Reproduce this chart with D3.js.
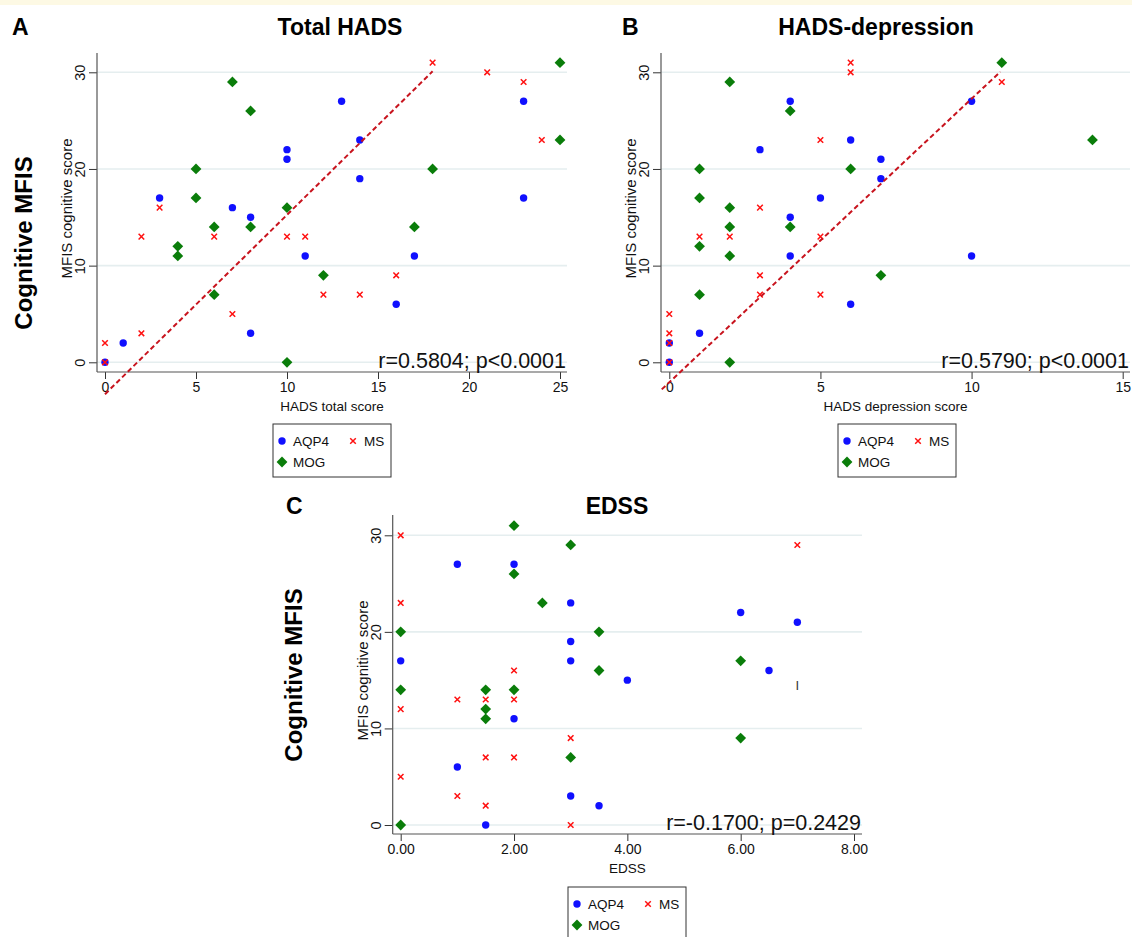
<!DOCTYPE html>
<html>
<head>
<meta http-equiv="Content-Type" content="text/html; charset=utf-8" />
<script src="https://cdn.jsdelivr.net/npm/d3@7"></script>
<title>MFIS panels</title>
<style>
  body { margin: 0; background: #fff; }
  text { font-family: "Liberation Sans", Arial, sans-serif; }
</style>
</head>
<body>
<svg width="1132" height="937" id="mainsvg"></svg>
<script>
// ---- data (x, MFIS cognitive score) ----
const yTicks = [0, 10, 20, 30];
const totalTicks = [0, 5, 10, 15, 20, 25];
const depTicks = [0, 5, 10, 15];
const edssTicks = [0, 2, 4, 6, 8];

const totalAQP4 = [[0,0],[1,2],[3,17],[7,16],[8,15],[8,3],[10,22],[10,21],[11,11],[13,27],[14,23],[14,19],[16,6],[17,11],[23,27],[23,17]];
const totalMS = [[0,0],[0,2],[2,13],[2,3],[3,16],[6,13],[7,5],[10,13],[11,13],[12,7],[14,7],[16,9],[18,31],[21,30],[23,29],[24,23]];
const totalMOG = [[4,12],[4,11],[5,20],[5,17],[6,14],[6,7],[7,29],[8,26],[8,14],[10,16],[10,0],[12,9],[17,14],[18,20],[25,31],[25,23]];
const totalFit = [[0,-3.3],[18,30.1]];

const depAQP4 = [[0,0],[0,2],[1,3],[3,22],[4,27],[4,15],[4,11],[5,17],[6,23],[6,6],[7,21],[7,19],[10,27],[10,11]];
const depMS = [[0,0],[0,2],[0,3],[0,5],[1,13],[2,13],[3,16],[3,9],[3,7],[5,23],[5,13],[5,7],[6,31],[6,30],[11,29]];
const depMOG = [[1,20],[1,17],[1,12],[1,7],[2,29],[2,16],[2,14],[2,11],[2,0],[4,26],[4,14],[6,20],[7,9],[11,31],[14,23]];
const depFit = [[-0.25,-2.8],[10.95,30.05]];

const edssAQP4 = [[0,17],[1,27],[1,6],[1.5,0],[2,27],[2,11],[3,23],[3,19],[3,17],[3,3],[3.5,2],[4,15],[6,22],[6.5,16],[7,21]];
const edssMS = [[0,30],[0,23],[0,12],[0,5],[1,13],[1,3],[1.5,13],[1.5,7],[1.5,2],[2,16],[2,13],[2,7],[3,9],[3,0],[7,29]];
const edssMOG = [[0,20],[0,14],[0,0],[1.5,14],[1.5,12],[1.5,11],[2,31],[2,26],[2,14],[2.5,23],[3,29],[3,7],[3.5,20],[3.5,16],[6,17],[6,9]];
const edssNote = [[7,14.5,"I"]];

const groups = ["AQP4", "MS", "MOG"];
const colors = {AQP4: "#1010ff", MS: "#ff1010", MOG: "#0a7d0a"};

let svg = d3.select("#mainsvg");
svg.append("rect").attr("x", 0).attr("y", 0).attr("width", 1132).attr("height", 5).attr("fill", "#fdf9e4");

function marker(g, grp, x, y) {
  if (grp === "AQP4") {
    g.append("circle").attr("cx", x).attr("cy", y).attr("r", 3.7).attr("fill", colors.AQP4);
  } else if (grp === "MOG") {
    g.append("path").attr("transform", `translate(${x},${y})`)
      .attr("d", "M0,-5.4L5.4,0L0,5.4L-5.4,0Z").attr("fill", colors.MOG);
  } else {
    g.append("path").attr("transform", `translate(${x},${y})`)
      .attr("d", "M-2.8,-2.8L2.8,2.8M-2.8,2.8L2.8,-2.8")
      .attr("stroke", colors.MS).attr("stroke-width", 1.5).attr("fill", "none");
  }
}

function panel(cfg) {
  const x = d3.scaleLinear().domain(cfg.xDom).range(cfg.xRange);
  const y = d3.scaleLinear().domain([0, 30]).range(cfg.yRange);
  const g = svg.append("g");

  // gridlines
  g.selectAll(".grid").data(yTicks).join("line")
    .attr("x1", cfg.left).attr("x2", cfg.right)
    .attr("y1", d => y(d)).attr("y2", d => y(d))
    .attr("stroke", "#e5eeef").attr("stroke-width", 1.6);

  // axes
  const ya = g.append("g").attr("transform", `translate(${cfg.left},0)`)
    .call(d3.axisLeft(y).tickValues(yTicks).tickSize(8).tickSizeOuter(0));
  ya.select(".domain").remove();
  ya.selectAll("line").attr("stroke", "#333");
  ya.selectAll("text").attr("transform", "rotate(-90)")
    .attr("x", 0).attr("y", -12).attr("dy", 0)
    .attr("text-anchor", "middle").attr("font-size", 14.5).attr("fill", "#111");

  const xa = g.append("g").attr("transform", `translate(0,${cfg.bottom})`)
    .call(d3.axisBottom(x).tickValues(cfg.xTicks).tickSize(7).tickSizeOuter(0).tickFormat(cfg.fmt));
  xa.select(".domain").remove();
  xa.selectAll("line").attr("stroke", "#333");
  xa.selectAll("text").attr("y", 10).attr("dy", "0.72em").attr("font-size", 14).attr("fill", "#111");

  g.append("line").attr("x1", cfg.left).attr("x2", cfg.left).attr("y1", cfg.top).attr("y2", cfg.bottom)
    .attr("stroke", "#555").attr("stroke-width", 1.2);
  g.append("line").attr("x1", cfg.left).attr("x2", cfg.right).attr("y1", cfg.bottom).attr("y2", cfg.bottom)
    .attr("stroke", "#555").attr("stroke-width", 1.2);

  // axis titles
  g.append("text").attr("x", (cfg.left + cfg.right) / 2).attr("y", cfg.bottom + 39)
    .attr("text-anchor", "middle").attr("font-size", 13.5).attr("fill", "#111").text(cfg.xTitle);
  g.append("text")
    .attr("transform", `translate(${cfg.left - 25},${(cfg.top + cfg.bottom) / 2 - 4}) rotate(-90)`)
    .attr("text-anchor", "middle").attr("font-size", 15).attr("fill", "#111").text("MFIS cognitive score");

  // points
  const pts = g.append("g");
  groups.forEach(grp => {
    cfg.data[grp].forEach(d => marker(pts, grp, x(d[0]), y(d[1])));
  });

  if (cfg.fit) {
    g.append("line")
      .attr("x1", x(cfg.fit[0][0])).attr("y1", y(cfg.fit[0][1]))
      .attr("x2", x(cfg.fit[1][0])).attr("y2", y(cfg.fit[1][1]))
      .attr("stroke", "#c8141e").attr("stroke-width", 2).attr("stroke-dasharray", "5,3");
  }
  if (cfg.notes) {
    g.selectAll(".note").data(cfg.notes).join("text")
      .attr("x", d => x(d[0])).attr("y", d => y(d[1]) + 5)
      .attr("text-anchor", "middle").attr("font-size", 13).attr("fill", "#333").text(d => d[2]);
  }

  // stat text
  g.append("text").attr("x", cfg.right - 1).attr("y", cfg.bottom - 4)
    .attr("text-anchor", "end").attr("font-size", 21.5).attr("fill", "#111").text(cfg.stat);

  // titles
  g.append("text").attr("x", cfg.letterX).attr("y", cfg.titleY)
    .attr("font-size", 23).attr("font-weight", "bold").text(cfg.letter);
  g.append("text").attr("x", cfg.titleX).attr("y", cfg.titleY).attr("text-anchor", "middle")
    .attr("font-size", 23).attr("font-weight", "bold").text(cfg.title);
  if (cfg.bigY) {
    g.append("text").attr("transform", `translate(${cfg.bigY[0]},${cfg.bigY[1]}) rotate(-90)`)
      .attr("text-anchor", "middle").attr("font-size", 24).attr("font-weight", "bold").text("Cognitive MFIS");
  }

  // legend
  const lg = svg.append("g").attr("transform", `translate(${cfg.legend[0]},${cfg.legend[1]})`);
  lg.append("rect").attr("width", 118).attr("height", 53).attr("fill", "#fff")
    .attr("stroke", "#333").attr("stroke-width", 1);
  const items = [["AQP4", 9, 17], ["MS", 80, 17], ["MOG", 9, 38]];
  items.forEach(it => {
    marker(lg, it[0], it[1], it[2]);
    lg.append("text").attr("x", it[1] + 11).attr("y", it[2] + 5)
      .attr("font-size", 13.5).attr("fill", "#111").text(it[0]);
  });
}

panel({
  xDom: [0, 25], xRange: [105, 560], yRange: [362.3, 72.3],
  left: 97, right: 567, top: 53, bottom: 372, xTicks: totalTicks, fmt: d3.format("d"),
  xTitle: "HADS total score", data: {AQP4: totalAQP4, MS: totalMS, MOG: totalMOG}, fit: totalFit,
  stat: "r=0.5804; p<0.0001", letter: "A", letterX: 12, title: "Total HADS", titleX: 340, titleY: 35,
  bigY: [32, 243], legend: [273, 424]
});
panel({
  xDom: [0, 15], xRange: [669.3, 1122.7], yRange: [362.3, 72.3],
  left: 661, right: 1130, top: 53, bottom: 372, xTicks: depTicks, fmt: d3.format("d"),
  xTitle: "HADS depression score", data: {AQP4: depAQP4, MS: depMS, MOG: depMOG}, fit: depFit,
  stat: "r=0.5790; p<0.0001", letter: "B", letterX: 622, title: "HADS-depression", titleX: 876, titleY: 35,
  bigY: null, legend: [838, 424]
});
panel({
  xDom: [0, 8], xRange: [400.7, 854], yRange: [825, 535.3],
  left: 392.7, right: 862, top: 515, bottom: 834, xTicks: edssTicks, fmt: d3.format(".2f"),
  xTitle: "EDSS", data: {AQP4: edssAQP4, MS: edssMS, MOG: edssMOG}, fit: null, notes: edssNote,
  stat: "r=-0.1700; p=0.2429", letter: "C", letterX: 286, title: "EDSS", titleX: 617, titleY: 514,
  bigY: [302, 675], legend: [568, 887]
});
</script>
</body>
</html>
